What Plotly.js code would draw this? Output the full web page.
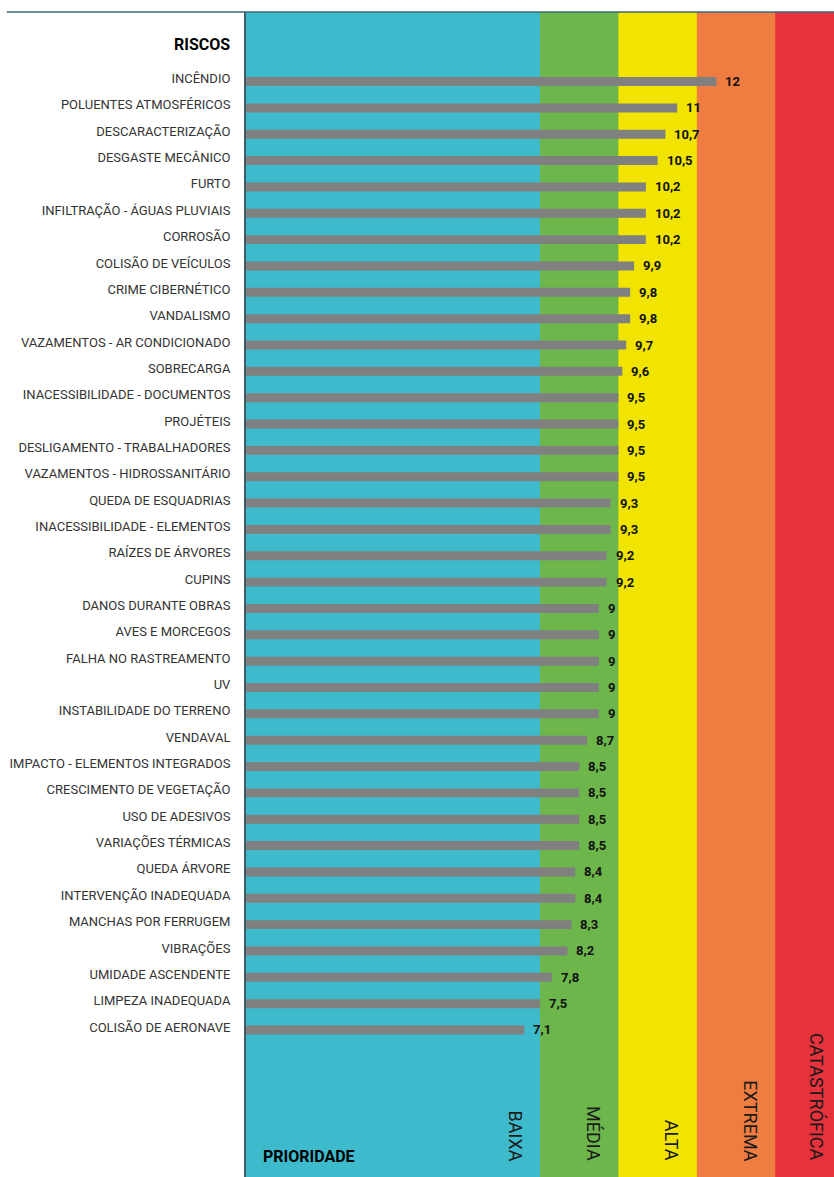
<!DOCTYPE html>
<html>
<head>
<meta charset="utf-8">
<script src="https://cdn.plot.ly/plotly-3.0.1.min.js"></script>
<style>html,body{margin:0;padding:0;background:#fff;}#chart{width:834px;height:1177px;}</style>
</head>
<body>
<div id="chart"></div>
<script>
const riscos = [
  "INCÊNDIO","POLUENTES ATMOSFÉRICOS","DESCARACTERIZAÇÃO","DESGASTE MECÂNICO","FURTO",
  "INFILTRAÇÃO - ÁGUAS PLUVIAIS","CORROSÃO","COLISÃO DE VEÍCULOS","CRIME CIBERNÉTICO","VANDALISMO",
  "VAZAMENTOS - AR CONDICIONADO","SOBRECARGA","INACESSIBILIDADE - DOCUMENTOS","PROJÉTEIS",
  "DESLIGAMENTO - TRABALHADORES","VAZAMENTOS - HIDROSSANITÁRIO","QUEDA DE ESQUADRIAS",
  "INACESSIBILIDADE - ELEMENTOS","RAÍZES DE ÁRVORES","CUPINS","DANOS DURANTE OBRAS","AVES E MORCEGOS",
  "FALHA NO RASTREAMENTO","UV","INSTABILIDADE DO TERRENO","VENDAVAL","IMPACTO - ELEMENTOS INTEGRADOS",
  "CRESCIMENTO DE VEGETAÇÃO","USO DE ADESIVOS","VARIAÇÕES TÉRMICAS","QUEDA ÁRVORE",
  "INTERVENÇÃO INADEQUADA","MANCHAS POR FERRUGEM","VIBRAÇÕES","UMIDADE ASCENDENTE",
  "LIMPEZA INADEQUADA","COLISÃO DE AERONAVE"
];
const valores = [12,11,10.7,10.5,10.2,10.2,10.2,9.9,9.8,9.8,9.7,9.6,9.5,9.5,9.5,9.5,9.3,9.3,9.2,9.2,9,9,9,9,9,8.7,8.5,8.5,8.5,8.5,8.4,8.4,8.3,8.2,7.8,7.5,7.1];

const faixasNomes = ["BAIXA","MÉDIA","ALTA","EXTREMA","CATASTRÓFICA"];
const faixasInicio = [0, 7.5, 9.5, 11.5, 13.5];
const faixasFim = [7.5, 9.5, 11.5, 13.5, 15];
const faixasCores = ["#3dbbcc","#6db64c","#f0e400","#ef7d42","#e6323c"];

const FONT = "Roboto, 'Liberation Sans', sans-serif";

const xMax = faixasFim[faixasFim.length - 1];
// each band is drawn to the right end; the next band covers it (avoids seams)
const shapes = faixasInicio.map((x0, i) => ({
  type: "rect", xref: "x", yref: "paper", x0: x0, x1: xMax, y0: 0, y1: 1,
  fillcolor: faixasCores[i], line: {width: 0}, layer: "below"
}));
shapes.push({type: "line", xref: "paper", yref: "paper", x0: -0.407, x1: 1, y0: 1, y1: 1,
  line: {color: "#3f6878", width: 1.5}});

const annotations = valores.map((v, i) => ({
  x: v, y: riscos[i], xref: "x", yref: "y", text: String(v).replace(".", ","),
  showarrow: false, xanchor: "left", xshift: 7, yshift: 0,
  font: {family: FONT, size: 13, color: "#111", weight: "bold"}
}));
faixasNomes.forEach((n, i) => {
  annotations.push({
    x: faixasFim[i], y: 0, xref: "x", yref: "paper", text: n, showarrow: false,
    textangle: 90, xanchor: "center", yanchor: "bottom", xshift: (i === 4 ? -17 : -25), yshift: 14,
    font: {family: FONT, size: 18, color: "#1a1a1a"}
  });
});
annotations.push({x: 0, y: 1, xref: "paper", yref: "paper", text: "<b>RISCOS</b>", showarrow: false,
  xanchor: "right", yanchor: "middle", xshift: -14, yshift: -32,
  font: {family: FONT, size: 16, color: "#000"}});
annotations.push({x: 0, y: 0, xref: "paper", yref: "paper", text: "<b>PRIORIDADE</b>", showarrow: false,
  xanchor: "left", yanchor: "middle", xshift: 15, yshift: 21,
  font: {family: FONT, size: 16, color: "#000"}});

const trace = {
  type: "bar", orientation: "h", x: valores, y: riscos,
  marker: {color: "#808080"}, width: 0.34, hoverinfo: "skip"
};

const layout = {
  width: 834, height: 1177,
  margin: {l: 246, r: 0, t: 12, b: 0, pad: 0},
  paper_bgcolor: "#ffffff", plot_bgcolor: "#ffffff",
  showlegend: false,
  font: {family: FONT, size: 12, color: "#333"},
  xaxis: {range: [0, xMax], showgrid: false, zeroline: false, showticklabels: false, ticks: "", fixedrange: true},
  yaxis: {type: "category", categoryorder: "array", categoryarray: riscos,
    range: [41.58, -2.64], showgrid: false, zeroline: false, ticks: "",
    ticklabelstandoff: 11, ticklabelshift: 3, tickfont: {family: FONT, size: 13, color: "#333"},
    showline: true, linecolor: "#3d5c68", linewidth: 2, fixedrange: true},
  shapes: shapes, annotations: annotations
};

Plotly.newPlot("chart", [trace], layout, {displayModeBar: false, staticPlot: true});
</script>
</body>
</html>
